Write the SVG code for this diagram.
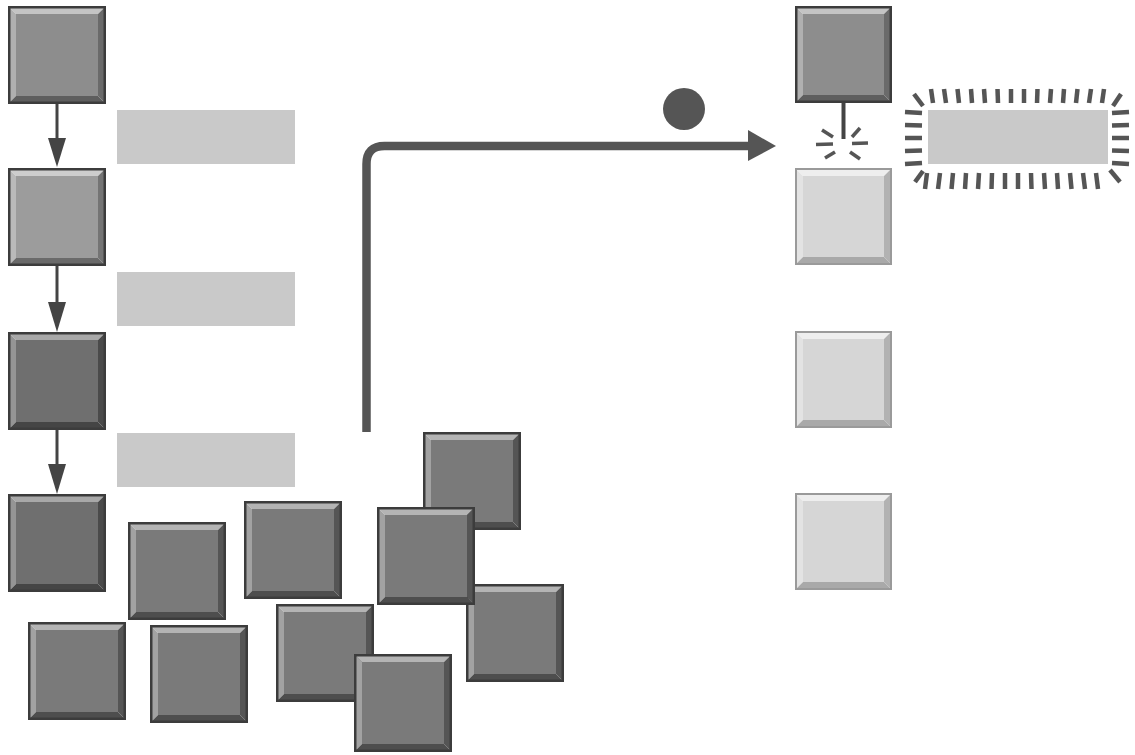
<svg xmlns="http://www.w3.org/2000/svg" width="1135" height="755" viewBox="0 0 1135 755">
<style>
.e{fill:none;stroke:#3c3c3c;stroke-width:2.5}
.mid .t{fill:#c4c4c4}.mid .l{fill:#b0b0b0}.mid .r{fill:#6a6a6a}.mid .b{fill:#5e5e5e}.mid .f{fill:#8d8d8d}
.mid2 .t{fill:#cdcdcd}.mid2 .l{fill:#bababa}.mid2 .r{fill:#747474}.mid2 .b{fill:#6a6a6a}.mid2 .f{fill:#9c9c9c}
.dark .t{fill:#a8a8a8}.dark .l{fill:#959595}.dark .r{fill:#4a4a4a}.dark .b{fill:#454545}.dark .f{fill:#6f6f6f}
.sc .t{fill:#b4b4b4}.sc .l{fill:#a2a2a2}.sc .r{fill:#555}.sc .b{fill:#4e4e4e}.sc .f{fill:#7a7a7a}
.light .t{fill:#eeeeee}.light .l{fill:#e3e3e3}.light .r{fill:#b2b2b2}.light .b{fill:#a9a9a9}.light .f{fill:#d6d6d6}
.light .e{stroke:#9a9a9a;stroke-width:2}
.bar{fill:#c9c9c9}
.ln{stroke:#444;stroke-width:3;fill:none}
.ah{fill:#444}
.tk{stroke:#555;stroke-width:4.5;fill:none}
.sp{stroke:#555;stroke-width:3.5;fill:none}
</style>
<rect width="1135" height="755" fill="#ffffff"/>

<!-- bars -->
<g id="bar1"><rect class="bar" x="117" y="110" width="178" height="54"/></g>
<g id="bar2"><rect class="bar" x="117" y="272" width="178" height="54"/></g>
<g id="bar3"><rect class="bar" x="117" y="433" width="178" height="54"/></g>

<!-- left column -->
<g id="L1" class="mid" transform="translate(8,6)">
<polygon class="t" points="0,0 98,0 90,8 8,8"/><polygon class="l" points="0,0 8,8 8,90 0,98"/><polygon class="r" points="98,0 98,98 90,90 90,8"/><polygon class="b" points="0,98 8,90 90,90 98,98"/><rect class="f" x="8" y="8" width="82" height="82"/><rect class="e" x="1.25" y="1.25" width="95.5" height="95.5"/>
</g>
<g id="L2" class="mid2" transform="translate(8,168)">
<polygon class="t" points="0,0 98,0 90,8 8,8"/><polygon class="l" points="0,0 8,8 8,90 0,98"/><polygon class="r" points="98,0 98,98 90,90 90,8"/><polygon class="b" points="0,98 8,90 90,90 98,98"/><rect class="f" x="8" y="8" width="82" height="82"/><rect class="e" x="1.25" y="1.25" width="95.5" height="95.5"/>
</g>
<g id="L3" class="dark" transform="translate(8,332)">
<polygon class="t" points="0,0 98,0 90,8 8,8"/><polygon class="l" points="0,0 8,8 8,90 0,98"/><polygon class="r" points="98,0 98,98 90,90 90,8"/><polygon class="b" points="0,98 8,90 90,90 98,98"/><rect class="f" x="8" y="8" width="82" height="82"/><rect class="e" x="1.25" y="1.25" width="95.5" height="95.5"/>
</g>
<g id="L4" class="dark" transform="translate(8,494)">
<polygon class="t" points="0,0 98,0 90,8 8,8"/><polygon class="l" points="0,0 8,8 8,90 0,98"/><polygon class="r" points="98,0 98,98 90,90 90,8"/><polygon class="b" points="0,98 8,90 90,90 98,98"/><rect class="f" x="8" y="8" width="82" height="82"/><rect class="e" x="1.25" y="1.25" width="95.5" height="95.5"/>
</g>

<!-- right column -->
<g id="R1" class="mid" transform="translate(795,6)">
<polygon class="t" points="0,0 97,0 89,8 8,8"/><polygon class="l" points="0,0 8,8 8,89 0,97"/><polygon class="r" points="97,0 97,97 89,89 89,8"/><polygon class="b" points="0,97 8,89 89,89 97,97"/><rect class="f" x="8" y="8" width="81" height="81"/><rect class="e" x="1.25" y="1.25" width="94.5" height="94.5"/>
</g>
<g id="R2" class="light" transform="translate(795,168)">
<polygon class="t" points="0,0 97,0 89,8 8,8"/><polygon class="l" points="0,0 8,8 8,89 0,97"/><polygon class="r" points="97,0 97,97 89,89 89,8"/><polygon class="b" points="0,97 8,89 89,89 97,97"/><rect class="f" x="8" y="8" width="81" height="81"/><rect class="e" x="1" y="1" width="95" height="95"/>
</g>
<g id="R3" class="light" transform="translate(795,331)">
<polygon class="t" points="0,0 97,0 89,8 8,8"/><polygon class="l" points="0,0 8,8 8,89 0,97"/><polygon class="r" points="97,0 97,97 89,89 89,8"/><polygon class="b" points="0,97 8,89 89,89 97,97"/><rect class="f" x="8" y="8" width="81" height="81"/><rect class="e" x="1" y="1" width="95" height="95"/>
</g>
<g id="R4" class="light" transform="translate(795,493)">
<polygon class="t" points="0,0 97,0 89,8 8,8"/><polygon class="l" points="0,0 8,8 8,89 0,97"/><polygon class="r" points="97,0 97,97 89,89 89,8"/><polygon class="b" points="0,97 8,89 89,89 97,97"/><rect class="f" x="8" y="8" width="81" height="81"/><rect class="e" x="1" y="1" width="95" height="95"/>
</g>

<!-- glowing bar -->
<g id="glow">
<rect class="bar" x="928" y="110" width="180" height="54"/>
<g class="tk">
<line x1="931" y1="89" x2="933" y2="103"/><line x1="944" y1="89" x2="946" y2="103"/><line x1="957.5" y1="89" x2="959" y2="103"/><line x1="971" y1="89" x2="972" y2="103"/><line x1="984" y1="89" x2="985" y2="103"/><line x1="997.5" y1="89" x2="998" y2="103"/><line x1="1011" y1="89" x2="1011" y2="103"/><line x1="1024" y1="89" x2="1024" y2="103"/><line x1="1037.5" y1="89" x2="1037" y2="103"/><line x1="1051" y1="89" x2="1050" y2="103"/><line x1="1064" y1="89" x2="1063" y2="103"/><line x1="1077.5" y1="89" x2="1076" y2="103"/><line x1="1091" y1="89" x2="1089" y2="103"/><line x1="1104" y1="89" x2="1102" y2="103"/>
<line x1="914" y1="94" x2="923" y2="106"/><line x1="1121" y1="94" x2="1113" y2="106"/>
<line x1="905" y1="112" x2="922" y2="113"/><line x1="905" y1="125" x2="922" y2="125.5"/><line x1="905" y1="138" x2="922" y2="138"/><line x1="905" y1="151" x2="922" y2="150.5"/><line x1="905" y1="164" x2="922" y2="163"/>
<line x1="1112" y1="113" x2="1129" y2="112"/><line x1="1112" y1="125.5" x2="1129" y2="125"/><line x1="1112" y1="138" x2="1129" y2="138"/><line x1="1112" y1="150.5" x2="1129" y2="151"/><line x1="1112" y1="163" x2="1129" y2="164"/>
<line x1="927" y1="173" x2="925" y2="189"/><line x1="940" y1="173" x2="938" y2="189"/><line x1="953" y1="173" x2="951.5" y2="189"/><line x1="966" y1="173" x2="965" y2="189"/><line x1="979" y1="173" x2="978" y2="189"/><line x1="992" y1="173" x2="991.5" y2="189"/><line x1="1005" y1="173" x2="1005" y2="189"/><line x1="1018" y1="173" x2="1018" y2="189"/><line x1="1031" y1="173" x2="1031.5" y2="189"/><line x1="1044" y1="173" x2="1045" y2="189"/><line x1="1057" y1="173" x2="1058" y2="189"/><line x1="1070" y1="173" x2="1071.5" y2="189"/><line x1="1083" y1="173" x2="1085" y2="189"/><line x1="1096" y1="173" x2="1098" y2="189"/>
<line x1="1110" y1="170" x2="1120" y2="182"/><line x1="915" y1="182" x2="923" y2="171"/>
</g>
</g>

<!-- scattered boxes -->
<g id="S9" class="sc" transform="translate(28,622)">
<polygon class="t" points="0,0 98,0 90,8 8,8"/><polygon class="l" points="0,0 8,8 8,90 0,98"/><polygon class="r" points="98,0 98,98 90,90 90,8"/><polygon class="b" points="0,98 8,90 90,90 98,98"/><rect class="f" x="8" y="8" width="82" height="82"/><rect class="e" x="1.25" y="1.25" width="95.5" height="95.5"/>
</g>
<g id="S1" class="sc" transform="translate(128,522)">
<polygon class="t" points="0,0 98,0 90,8 8,8"/><polygon class="l" points="0,0 8,8 8,90 0,98"/><polygon class="r" points="98,0 98,98 90,90 90,8"/><polygon class="b" points="0,98 8,90 90,90 98,98"/><rect class="f" x="8" y="8" width="82" height="82"/><rect class="e" x="1.25" y="1.25" width="95.5" height="95.5"/>
</g>
<g id="S6" class="sc" transform="translate(150,625)">
<polygon class="t" points="0,0 98,0 90,8 8,8"/><polygon class="l" points="0,0 8,8 8,90 0,98"/><polygon class="r" points="98,0 98,98 90,90 90,8"/><polygon class="b" points="0,98 8,90 90,90 98,98"/><rect class="f" x="8" y="8" width="82" height="82"/><rect class="e" x="1.25" y="1.25" width="95.5" height="95.5"/>
</g>
<g id="S2" class="sc" transform="translate(244,501)">
<polygon class="t" points="0,0 98,0 90,8 8,8"/><polygon class="l" points="0,0 8,8 8,90 0,98"/><polygon class="r" points="98,0 98,98 90,90 90,8"/><polygon class="b" points="0,98 8,90 90,90 98,98"/><rect class="f" x="8" y="8" width="82" height="82"/><rect class="e" x="1.25" y="1.25" width="95.5" height="95.5"/>
</g>
<g id="S7" class="sc" transform="translate(276,604)">
<polygon class="t" points="0,0 98,0 90,8 8,8"/><polygon class="l" points="0,0 8,8 8,90 0,98"/><polygon class="r" points="98,0 98,98 90,90 90,8"/><polygon class="b" points="0,98 8,90 90,90 98,98"/><rect class="f" x="8" y="8" width="82" height="82"/><rect class="e" x="1.25" y="1.25" width="95.5" height="95.5"/>
</g>
<g id="S8" class="sc" transform="translate(354,654)">
<polygon class="t" points="0,0 98,0 90,8 8,8"/><polygon class="l" points="0,0 8,8 8,90 0,98"/><polygon class="r" points="98,0 98,98 90,90 90,8"/><polygon class="b" points="0,98 8,90 90,90 98,98"/><rect class="f" x="8" y="8" width="82" height="82"/><rect class="e" x="1.25" y="1.25" width="95.5" height="95.5"/>
</g>
<g id="S3" class="sc" transform="translate(423,432)">
<polygon class="t" points="0,0 98,0 90,8 8,8"/><polygon class="l" points="0,0 8,8 8,90 0,98"/><polygon class="r" points="98,0 98,98 90,90 90,8"/><polygon class="b" points="0,98 8,90 90,90 98,98"/><rect class="f" x="8" y="8" width="82" height="82"/><rect class="e" x="1.25" y="1.25" width="95.5" height="95.5"/>
</g>
<g id="S5" class="sc" transform="translate(466,584)">
<polygon class="t" points="0,0 98,0 90,8 8,8"/><polygon class="l" points="0,0 8,8 8,90 0,98"/><polygon class="r" points="98,0 98,98 90,90 90,8"/><polygon class="b" points="0,98 8,90 90,90 98,98"/><rect class="f" x="8" y="8" width="82" height="82"/><rect class="e" x="1.25" y="1.25" width="95.5" height="95.5"/>
</g>
<g id="S4" class="sc" transform="translate(377,507)">
<polygon class="t" points="0,0 98,0 90,8 8,8"/><polygon class="l" points="0,0 8,8 8,90 0,98"/><polygon class="r" points="98,0 98,98 90,90 90,8"/><polygon class="b" points="0,98 8,90 90,90 98,98"/><rect class="f" x="8" y="8" width="82" height="82"/><rect class="e" x="1.25" y="1.25" width="95.5" height="95.5"/>
</g>

<!-- dot -->
<g id="dot"><circle cx="684" cy="109" r="21" fill="#555"/></g>

<!-- connectors -->
<g id="connectors">
<line class="ln" x1="57" y1="104" x2="57" y2="140"/>
<polygon class="ah" points="48,138 66,138 57,167"/>
<line class="ln" x1="57" y1="266" x2="57" y2="304"/>
<polygon class="ah" points="48,302 66,302 57,332"/>
<line class="ln" x1="57" y1="430" x2="57" y2="466"/>
<polygon class="ah" points="48,464 66,464 57,494"/>
<path d="M366.5,432 V164 Q366.5,146 384.5,146 H752" fill="none" stroke="#555" stroke-width="8.5"/>
<polygon points="748,130 776,146 748,161" fill="#555"/>
<line x1="843.5" y1="103" x2="843.5" y2="139" stroke="#444" stroke-width="4"/>
<g class="sp">
<line x1="816" y1="144.5" x2="833" y2="144"/>
<line x1="852" y1="143.5" x2="868" y2="143"/>
<line x1="822" y1="130" x2="833" y2="137"/>
<line x1="852" y1="137" x2="860" y2="128"/>
<line x1="825" y1="158" x2="835" y2="152"/>
<line x1="850" y1="152" x2="860" y2="159"/>
</g>
</g>
</svg>
